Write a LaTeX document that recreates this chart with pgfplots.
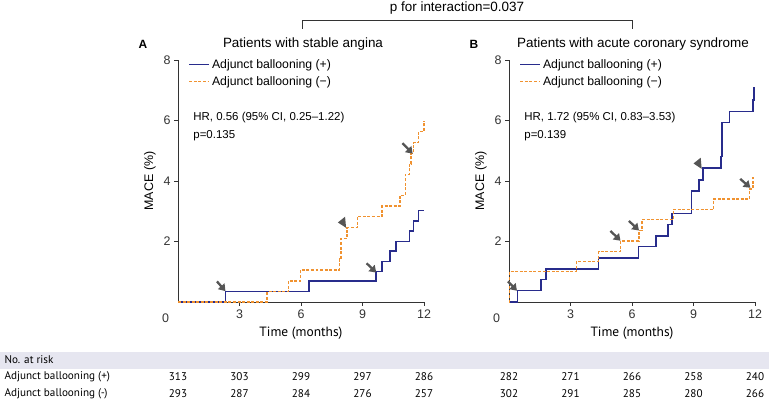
\documentclass[border=0pt]{standalone}
\usepackage{fontspec}
\setmainfont{Liberation Sans}
\newfontfamily\tabfont{PT Sans}
\usepackage{pgfplots}
\pgfplotsset{compat=1.18}
\usetikzlibrary{arrows.meta}
\definecolor{kmblue}{RGB}{40,44,140}
\definecolor{kmorange}{RGB}{240,146,48}
\definecolor{arrowgray}{RGB}{85,85,85}
\definecolor{bandgray}{RGB}{230,230,240}

\tikzset{
  km arrow/.style={arrowgray, line width=2.3pt, -{Triangle[length=6.5bp,width=8.5bp]}, shorten >=-2bp},
}
\pgfplotsset{
  kmaxis/.style={
    width=246bp, height=242bp, scale only axis,
    xmin=0, xmax=12, ymin=0, ymax=8,
    axis lines=left, axis line style={-, black!80, line width=0.7pt},
    xtick={3,6,9,12}, ytick={2,4,6,8},
    tick align=outside, major tick length=4bp,
    tick style={black!80, line width=0.7pt},
    ticklabel style={font=\fontsize{12.5}{13}\selectfont, text=black!80},
    /pgf/number format/assume math mode=true,
    xlabel={\tabfont\fontsize{13.5}{14}\selectfont Time (months)}, ylabel={MACE (\%)},
    xlabel style={yshift=-2bp},
    ylabel style={yshift=1bp},
    label style={font=\fontsize{12.5}{13}\selectfont},
    clip=false,
    legend style={at={(rel axis cs:0.03,1.02)}, anchor=north west, draw=none, fill=none,
      font=\fontsize{12.3}{14}\selectfont, row sep=2.5bp},
    legend image code/.code={\draw[#1] (0bp,0bp) -- (20bp,0bp);},
    legend cell align=left,
  },
  plusline/.style={kmblue, line width=1.5pt, const plot},
  minusline/.style={kmorange, line width=1.5pt, const plot, dash pattern=on 3pt off 1.6pt},
}

\begin{document}
\begin{tikzpicture}
\useasboundingbox (0bp,0bp) rectangle (769bp,400bp);

% bracket and interaction p-value
\draw[black!80, line width=0.7pt] (302bp,371bp) -- (302bp,380bp) -- (632bp,380bp) -- (632bp,371bp);
\node[font=\fontsize{13.5}{15}\selectfont] at (457bp,392bp) {p for interaction=0.037};

% panel A
\node[font=\bfseries\fontsize{12}{13}\selectfont] at (143bp,356bp) {A};
\node[font=\fontsize{13.5}{15}\selectfont] at (303bp,356bp) {Patients with stable angina};
\begin{axis}[kmaxis, at={(178bp,98bp)}, anchor=south west]
\addplot[plusline] coordinates {
 (0,0) (2.31,0.35) (6.4,0.69) (9.66,1.0) (9.95,1.34) (10.33,1.68) (10.63,2.0)
 (11.3,2.34) (11.48,2.68) (11.74,3.02) (12,3.02)};
\addlegendentry{Adjunct ballooning (+)}
\addplot[minusline] coordinates {
 (0,0) (4.35,0.34) (5.39,0.7) (5.98,1.06) (7.87,1.42) (7.95,2.1) (8.24,2.46)
 (8.75,2.83) (9.95,3.17) (10.83,3.52) (11.09,4.22) (11.29,4.57) (11.37,4.91)
 (11.48,5.27) (11.74,5.64) (12,6.0)};
\addlegendentry{Adjunct ballooning (\textminus)}
\node[anchor=west, font=\fontsize{11.5}{13}\selectfont] at (axis cs:0.58,6.1) {HR, 0.56 (95\% CI, 0.25\textendash1.22)};
\node[anchor=west, font=\fontsize{11.5}{13}\selectfont] at (axis cs:0.58,5.5) {p=0.135};
\node[font=\fontsize{12.5}{13}\selectfont, text=black!80] at (axis cs:-0.6,-0.55) {0};
\draw[km arrow] (axis cs:1.9,0.68) -- (axis cs:2.25,0.41);
\draw[km arrow] (axis cs:9.2,1.28) -- (axis cs:9.6,1.02);
\draw[km arrow] (axis cs:10.95,5.25) -- (axis cs:11.38,4.95);
\fill[arrowgray] (axis cs:7.8,2.63) -- (axis cs:8.15,2.82) -- (axis cs:8.2,2.45) -- cycle;
\end{axis}

% panel B
\node[font=\bfseries\fontsize{12}{13}\selectfont] at (474bp,356bp) {B};
\node[font=\fontsize{13.5}{15}\selectfont] at (633bp,356bp) {Patients with acute coronary syndrome};
\begin{axis}[kmaxis, at={(509bp,98bp)}, anchor=south west]
\addplot[plusline] coordinates {
 (0,0) (0.42,0.38) (1.57,0.74) (1.81,1.09) (4.37,1.46) (6.31,1.83) (7.17,2.19)
 (7.76,2.57) (7.96,2.93) (8.9,3.67) (9.26,4.04) (9.46,4.43) (10.34,4.81)
 (10.39,5.93) (10.75,6.3) (11.89,6.67) (11.95,7.08) (12,7.08)};
\addlegendentry{Adjunct ballooning (+)}
\addplot[minusline] coordinates {
 (0,0) (0.03,1.01) (3.29,1.34) (4.37,1.67) (5.45,2.02) (6.33,2.36) (6.49,2.72)
 (8.02,3.06) (9.98,3.4) (11.74,3.74) (11.9,4.12) (12,4.12)};
\addlegendentry{Adjunct ballooning (\textminus)}
\node[anchor=west, font=\fontsize{11.5}{13}\selectfont] at (axis cs:0.58,6.1) {HR, 1.72 (95\% CI, 0.83\textendash3.53)};
\node[anchor=west, font=\fontsize{11.5}{13}\selectfont] at (axis cs:0.58,5.5) {p=0.139};
\node[font=\fontsize{12.5}{13}\selectfont, text=black!80] at (axis cs:-0.6,-0.55) {0};
\draw[km arrow] (axis cs:-0.05,0.68) -- (axis cs:0.32,0.42);
\draw[km arrow] (axis cs:4.95,2.35) -- (axis cs:5.37,2.07);
\draw[km arrow] (axis cs:5.85,2.68) -- (axis cs:6.27,2.41);
\draw[km arrow] (axis cs:11.28,4.07) -- (axis cs:11.7,3.82);
\fill[arrowgray] (axis cs:9.0,4.58) -- (axis cs:9.35,4.77) -- (axis cs:9.4,4.4) -- cycle;
\end{axis}

% number at risk table
\fill[bandgray] (0bp,31bp) rectangle (769bp,48bp);
\begin{scope}[font=\tabfont\fontsize{11.2}{12}\selectfont]
\node[anchor=west] at (1bp,40bp) {No. at risk};
\node[anchor=west] at (1bp,23bp) {Adjunct ballooning (+)};
\node[anchor=west] at (1bp,6bp) {Adjunct ballooning (-)};
\foreach \x/\a/\b in {178/313/293, 239.5/303/287, 301/299/284, 362.5/297/276, 424/286/257,
                      509/282/302, 570.5/271/291, 632/266/285, 693.5/258/280, 755/240/266} {
  \node at (\x bp,23bp) {\a};
  \node at (\x bp,6bp) {\b};
}
\end{scope}
\end{tikzpicture}
\end{document}
